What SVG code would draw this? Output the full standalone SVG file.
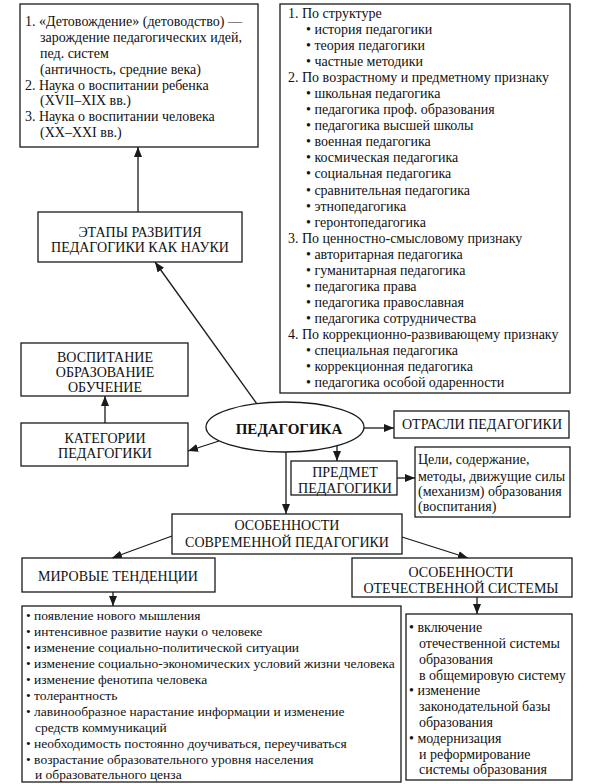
<svg xmlns="http://www.w3.org/2000/svg" width="594" height="784" viewBox="0 0 594 784" font-family="'Liberation Serif', 'Times New Roman', 'DejaVu Serif', serif">
<defs>
<marker id="ah" markerWidth="10" markerHeight="8" refX="10" refY="4" orient="auto" markerUnits="userSpaceOnUse">
<path d="M0,0 L10,4 L0,8 z" fill="#1a1a1a"/>
</marker>
<style>
rect{fill:#fff;stroke:#1a1a1a;stroke-width:1.3}
ellipse{fill:#fff;stroke:#1a1a1a;stroke-width:1.3}
text{font-family:'Liberation Serif','Times New Roman','DejaVu Serif',serif;font-size:14px;fill:#111}
.c{text-anchor:middle}
.b{font-weight:bold;font-size:15px}
.s{font-size:13.5px}
#connectors line{stroke:#1a1a1a;stroke-width:1.3;marker-end:url(#ah)}
</style>
</defs>
<rect x="0" y="0" width="594" height="784" style="fill:#fff;stroke:none"/>

<g id="connectors">
<line x1="138" y1="212" x2="138" y2="147"/>
<line x1="257" y1="404" x2="155" y2="262"/>
<line x1="105" y1="423" x2="105" y2="396"/>
<line x1="219" y1="441" x2="188" y2="451"/>
<line x1="364" y1="428" x2="394" y2="428"/>
<line x1="337" y1="446" x2="337" y2="461"/>
<line x1="397" y1="478" x2="415" y2="478"/>
<line x1="286" y1="452" x2="286" y2="514"/>
<line x1="172" y1="536" x2="112" y2="558"/>
<line x1="402" y1="537" x2="468" y2="558"/>
<line x1="113" y1="592" x2="113" y2="606"/>
<line x1="477" y1="597" x2="477" y2="614"/>
</g>

<g id="stages-list">
<rect x="20" y="4" width="238" height="143"/>
<text x="25" y="26">1. «Детовождение» (детоводство) —</text>
<text x="40" y="42">зарождение педагогических идей,</text>
<text x="40" y="58">пед. систем</text>
<text x="40" y="73.5">(античность, средние века)</text>
<text x="25" y="89.5">2. Наука о воспитании ребенка</text>
<text x="40" y="105">(XVII–XIX вв.)</text>
<text x="25" y="121">3. Наука о воспитании человека</text>
<text x="40" y="137">(XX–XXI вв.)</text>
</g>

<g id="branches-list">
<rect x="280" y="4" width="290" height="389"/>
<text x="288" y="18">1. По структуре</text>
<text x="306" y="34">• история педагогики</text>
<text x="306" y="50">• теория педагогики</text>
<text x="306" y="66">• частные методики</text>
<text x="288" y="82">2. По возрастному и предметному признаку</text>
<text x="306" y="98">• школьная педагогика</text>
<text x="306" y="114">• педагогика проф. образования</text>
<text x="306" y="130">• педагогика высшей школы</text>
<text x="306" y="146">• военная педагогика</text>
<text x="306" y="162">• космическая педагогика</text>
<text x="306" y="178">• социальная педагогика</text>
<text x="306" y="194.5">• сравнительная педагогика</text>
<text x="306" y="210.5">• этнопедагогика</text>
<text x="306" y="226.5">• геронтопедагогика</text>
<text x="288" y="242.5">3. По ценностно-смысловому признаку</text>
<text x="306" y="258.5">• авторитарная педагогика</text>
<text x="306" y="274.5">• гуманитарная педагогика</text>
<text x="306" y="290.5">• педагогика права</text>
<text x="306" y="306.5">• педагогика православная</text>
<text x="306" y="322.5">• педагогика сотрудничества</text>
<text x="288" y="339">4. По коррекционно-развивающему признаку</text>
<text x="306" y="355">• специальная педагогика</text>
<text x="306" y="371">• коррекционная педагогика</text>
<text x="306" y="387">• педагогика особой одаренности</text>
</g>

<g id="stages">
<rect x="38" y="212" width="204" height="50"/>
<text class="c" x="140" y="236.5">ЭТАПЫ РАЗВИТИЯ</text>
<text class="c" x="140" y="251.5">ПЕДАГОГИКИ КАК НАУКИ</text>
</g>

<g id="upbringing">
<rect x="21" y="343" width="167" height="53"/>
<text class="c" x="105" y="362">ВОСПИТАНИЕ</text>
<text class="c" x="105" y="377">ОБРАЗОВАНИЕ</text>
<text class="c" x="105" y="392">ОБУЧЕНИЕ</text>
</g>

<g id="categories">
<rect x="21" y="423" width="167" height="43"/>
<text class="c" x="105" y="443">КАТЕГОРИИ</text>
<text class="c" x="105" y="458">ПЕДАГОГИКИ</text>
</g>

<g id="pedagogy">
<ellipse cx="285" cy="427" rx="79" ry="25"/>
<text class="c b" x="289" y="434">ПЕДАГОГИКА</text>
</g>

<g id="branches">
<rect x="394" y="411" width="175" height="27"/>
<text class="c" x="482" y="429">ОТРАСЛИ  ПЕДАГОГИКИ</text>
</g>

<g id="subject">
<rect x="291" y="461" width="106" height="34"/>
<text class="c" x="345" y="476.5">ПРЕДМЕТ</text>
<text class="c" x="345" y="492.5">ПЕДАГОГИКИ</text>
</g>

<g id="goals">
<rect x="415" y="447" width="155" height="70"/>
<text x="418" y="464">Цели, содержание,</text>
<text x="418" y="480.5">методы, движущие силы</text>
<text x="418" y="496">(механизм) образования</text>
<text x="418" y="511">(воспитания)</text>
</g>

<g id="features">
<rect x="172" y="514" width="230" height="40"/>
<text class="c" x="287" y="530">ОСОБЕННОСТИ</text>
<text class="c" x="287" y="547">СОВРЕМЕННОЙ ПЕДАГОГИКИ</text>
</g>

<g id="world">
<rect x="22" y="558" width="193" height="34"/>
<text class="c" x="118" y="580.5">МИРОВЫЕ ТЕНДЕНЦИИ</text>
</g>

<g id="national">
<rect x="352" y="558" width="220" height="39"/>
<text class="c" x="461" y="576.5">ОСОБЕННОСТИ</text>
<text class="c" x="461" y="592.5">ОТЕЧЕСТВЕННОЙ СИСТЕМЫ</text>
</g>

<g id="world-list">
<rect x="22" y="606" width="379" height="176"/>
<text class="s" x="26" y="619.5">• появление нового мышления</text>
<text class="s" x="26" y="635.5">• интенсивное развитие науки о человеке</text>
<text class="s" x="26" y="651.5">• изменение социально-политической ситуации</text>
<text class="s" x="26" y="667.5">• изменение социально-экономических условий жизни человека</text>
<text class="s" x="26" y="683.5">• изменение фенотипа человека</text>
<text class="s" x="26" y="699.5">• толерантность</text>
<text class="s" x="26" y="715.5">• лавинообразное нарастание информации и изменение</text>
<text class="s" x="35" y="731.5">средств коммуникаций</text>
<text class="s" x="26" y="747.5">• необходимость постоянно доучиваться, переучиваться</text>
<text class="s" x="26" y="763.5">• возрастание образовательного уровня населения</text>
<text class="s" x="35" y="779">и образовательного ценза</text>
</g>

<g id="national-list">
<rect x="406" y="614" width="166" height="166"/>
<text x="409" y="632">• включение</text>
<text x="419" y="648">отечественной системы</text>
<text x="419" y="663.5">образования</text>
<text x="419" y="679.5">в общемировую систему</text>
<text x="409" y="695">• изменение</text>
<text x="419" y="711">законодательной базы</text>
<text x="419" y="727">образования</text>
<text x="409" y="742.5">• модернизация</text>
<text x="419" y="758.5">и реформирование</text>
<text x="419" y="774">системы образования</text>
</g>
</svg>
